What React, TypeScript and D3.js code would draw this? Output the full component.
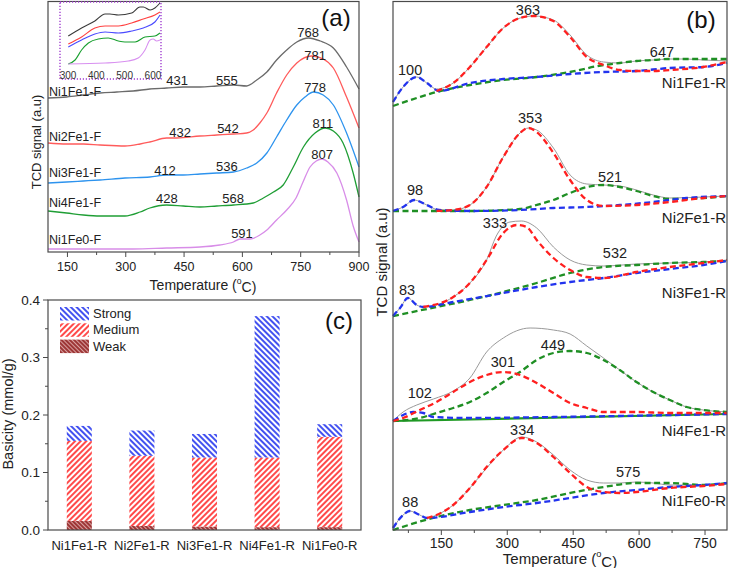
import React from 'react';
import * as d3 from 'd3';

const FONT = '"Liberation Sans", Arial, Helvetica, sans-serif';

// ---- (a) TPR profiles of fresh catalysts: [temperature (°C), signal] ----
const samplesA = ['Ni1Fe1-F', 'Ni2Fe1-F', 'Ni3Fe1-F', 'Ni4Fe1-F', 'Ni1Fe0-F'];
const ni1fe1F = [[100,154],[148,155],[191,157],[234,159],[277,160],[319,161],[362,163],[405,164],[448,165],[491,165],[534,166],[577,167],[611,166],[637,172],[663,180],[688,192],[714,202],[740,210],[770,214],[800,211],[834,204],[868,185],[900,163]];
const ni2fe1F = [[100,109],[148,108],[191,108],[234,107],[298,106],[337,108],[362,110],[405,114],[431,114],[491,116],[534,117],[577,118],[611,119],[628,122],[645,129],[663,139],[688,159],[714,177],[740,189],[778,196],[808,193],[834,184],[868,155],[900,124]];
const ni3fe1F = [[100,69],[148,70],[191,71],[234,72],[298,74],[362,75],[405,77],[448,77],[491,78],[534,79],[577,80],[611,84],[637,89],[663,99],[688,115],[714,132],[740,147],[761,155],[783,160],[808,157],[834,147],[868,119],[900,85]];
const ni4fe1F = [[100,41],[148,39],[191,37],[234,36],[298,36],[337,40],[362,44],[405,47],[448,46],[491,45],[534,46],[577,47],[628,49],[654,54],[680,60],[705,67],[731,85],[757,105],[787,119],[813,124],[834,121],[859,109],[885,79],[900,55]];
const ni1fe0F = [[100,3],[234,3],[319,3],[405,4],[491,5],[542,7],[577,10],[594,13],[620,13],[645,17],[663,22],[688,32],[714,42],[738,54],[756,70],[774,85],[790,91],[805,93],[820,90],[843,79],[868,52],[885,26],[900,10]];
// label text with [temperature, signal] anchor
const peaksA = [
  [['431', 432, 172], ['555', 560, 172], ['768', 769, 220]],
  [['432', 440, 120], ['542', 563, 124], ['781', 787, 197]],
  [['412', 401, 82], ['536', 560, 86], ['778', 787, 165]],
  [['428', 406, 54], ['568', 576, 54], ['811', 807, 129]],
  [['591', 599, 19], ['807', 805, 98]],
];
const nameLevelA = [160, 115, 79, 49, 12];
const ticksA = [150, 300, 450, 600, 750, 900];
const minorA = [225, 375, 525, 675, 825];

// inset (300-625 °C zoom)
const insNi1Fe1 = [[301,44],[348,52],[395,59],[431,66],[448,66],[478,65],[525,67],[554,73],[566,73],[590,70],[607,72],[625,77]];
const insNi2Fe1 = [[301,36],[348,43],[395,52],[431,54],[478,54],[525,57],[566,61],[607,65],[625,68]];
const insNi3Fe1 = [[301,33],[348,40],[395,46],[431,48],[478,47],[525,49],[566,52],[607,58],[625,65]];
const insNi4Fe1 = [[301,16],[325,20],[348,30],[372,37],[407,41],[442,42],[478,39],[501,38],[537,38],[572,43],[607,44],[625,47]];
const insNi1Fe0 = [[301,16],[431,17],[513,19],[548,22],[572,30],[590,40],[601,41],[613,39],[625,40]];
const insetTicks = [300, 400, 500, 600];

// ---- (b) deconvoluted TPR of reduced catalysts: [temperature (°C), signal] ----
const samplesB = ['Ni1Fe1-R', 'Ni2Fe1-R', 'Ni3Fe1-R', 'Ni4Fe1-R', 'Ni1Fe0-R'];
const r1Sum = [[40,428],[63,443],[94,453],[117,447],[139,441],[177,447],[215,463],[253,483],[291,502],[329,512],[360,514],[405,510],[443,495],[481,475],[519,468],[556,467],[594,469],[632,470],[670,471],[708,471],[746,470],[800,469]];
const r1Blue = [[40,428],[63,443],[94,453],[117,447],[145,439],[215,447],[291,451],[367,453],[443,456],[519,458],[594,459],[670,462],[746,463],[800,467]];
const r1Red = [[139,439],[177,447],[215,463],[253,483],[291,502],[329,512],[360,514],[405,509],[443,493],[481,473],[519,465],[556,460],[594,459],[632,459],[670,460],[746,463],[800,468]];
const r1Green = [[40,424],[101,433],[139,438],[215,445],[291,450],[367,453],[443,458],[519,465],[556,467],[594,469],[632,470],[670,471],[746,471],[800,471]];

const r2Sum = [[40,319],[63,323],[88,330],[117,325],[145,320],[177,320],[215,325],[253,343],[291,373],[329,397],[348,402],[367,400],[405,382],[443,355],[481,346],[519,345],[556,344],[594,340],[632,335],[670,332],[746,333],[800,334]];
const r2Blue = [[40,319],[63,323],[88,330],[117,325],[145,320],[215,319],[329,320],[405,322],[481,323],[556,325],[632,328],[708,332],[800,334]];
const r2Red = [[139,319],[177,320],[215,325],[253,343],[291,373],[329,397],[348,402],[367,398],[405,377],[443,350],[481,330],[519,324],[594,325],[670,328],[746,332],[800,334]];
const r2Green = [[40,319],[215,319],[329,321],[367,325],[405,330],[443,337],[481,343],[519,345],[556,343],[594,339],[632,334],[670,331],[746,332],[800,334]];

const r3Sum = [[40,214],[56,222],[74,232],[94,225],[109,223],[177,233],[215,247],[253,270],[275,294],[306,308],[332,309],[367,302],[405,283],[443,270],[481,265],[519,264],[594,266],[670,267],[746,268],[800,270]];
const r3Blue = [[40,214],[56,222],[74,232],[94,225],[109,223],[177,228],[291,237],[367,243],[443,248],[519,252],[594,257],[670,261],[746,265],[800,269]];
const r3Red = [[109,223],[177,233],[215,247],[253,270],[291,297],[321,305],[344,303],[367,290],[405,272],[443,260],[481,253],[519,252],[594,258],[670,263],[746,267],[800,270]];
const r3Green = [[40,214],[139,223],[215,230],[291,238],[367,247],[443,257],[519,263],[594,265],[670,267],[746,268],[800,269]];

const r4Sum = [[40,109],[63,118],[94,125],[132,131],[177,139],[215,152],[253,178],[291,192],[352,202],[405,200],[443,196],[481,184],[519,172],[556,160],[594,148],[632,138],[670,130],[708,123],[746,120],[800,118]];
const r4Blue = [[40,109],[63,115],[86,118],[109,117],[132,113],[215,112],[405,113],[800,116]];
const r4Red = [[40,109],[63,112],[101,120],[139,128],[177,138],[215,148],[253,155],[291,158],[329,155],[367,147],[405,137],[443,127],[481,122],[519,118],[594,118],[670,117],[800,117]];
const r4Green = [[40,109],[101,112],[139,117],[177,122],[215,128],[253,137],[291,148],[329,158],[367,170],[405,177],[443,179],[481,177],[519,170],[556,160],[594,148],[632,138],[670,130],[708,123],[746,120],[800,118]];
const r4Base = [[40,109],[800,116]];

const r5Sum = [[40,2],[63,15],[78,19],[101,15],[117,12],[139,15],[177,25],[215,42],[253,62],[291,80],[333,93],[367,88],[405,75],[443,60],[481,50],[519,47],[556,47],[594,48],[632,47],[670,45],[746,45],[800,46]];
const r5Blue = [[40,2],[63,15],[78,19],[101,15],[117,12],[215,18],[291,23],[367,27],[443,32],[519,37],[594,40],[670,43],[746,45],[800,47]];
const r5Red = [[117,12],[139,15],[177,25],[215,42],[253,63],[291,80],[333,92],[367,87],[405,73],[443,57],[481,43],[519,38],[556,37],[594,38],[670,42],[746,44],[800,46]];
const r5Green = [[40,0],[139,13],[215,20],[291,25],[367,30],[443,37],[519,43],[594,47],[670,47],[746,45],[800,47]];

const curvesB = [
  [r1Sum, r1Green, r1Blue, r1Red],
  [r2Sum, r2Green, r2Blue, r2Red],
  [r3Sum, r3Green, r3Blue, r3Red],
  [r4Sum, r4Green, r4Blue, r4Red],
  [r5Sum, r5Green, r5Blue, r5Red],
];
const peaksB = [
  [['100', 79, 460], ['363', 347, 520], ['647', 652, 478]],
  [['98', 90, 340], ['353', 352, 412], ['521', 534, 353]],
  [['83', 72, 240], ['333', 272, 307], ['532', 545, 277]],
  [['102', 101, 137], ['301', 290, 168], ['449', 404, 185]],
  [['88', 79, 28], ['334', 334, 100], ['575', 575, 58]],
];
const nameLevelB = [448, 313, 238, 100, 30];
const ticksB = [150, 300, 450, 600, 750];
const minorB = [75, 225, 375, 525, 675];

// ---- (c) basicity (mmol/g) ----
const catalysts = ['Ni1Fe1-R', 'Ni2Fe1-R', 'Ni3Fe1-R', 'Ni4Fe1-R', 'Ni1Fe0-R'];
const weakSites = [0.016, 0.007, 0.006, 0.005, 0.005];
const mediumSites = [0.139, 0.122, 0.120, 0.121, 0.157];
const strongSites = [0.026, 0.044, 0.041, 0.246, 0.022];
const ticksC = [0, 0.1, 0.2, 0.3, 0.4];
const minorC = [0.05, 0.15, 0.25, 0.35];

const colA = ['#6b6b6b', '#ff5b5b', '#2d93ee', '#1f9e35', '#d88de8'];
const colIns = ['#3a3a3a', '#ff4040', '#4a4aff', '#19a030', '#d890f0'];
const colB = ['#9a9a9a', '#1f8f24', '#2233ee', '#ff1f1f'];
const AX = '#4a4a4a';

function Degree({ pre }: { pre: string }) {
  return (
    <>
      {pre}(<tspan fontSize="0.62em" dy="-0.45em">o</tspan><tspan dy="0.45em">C)</tspan>
    </>
  );
}

export default function App() {
  // panel (a)
  const xA = d3.scaleLinear().domain([100, 900]).range([48, 359]);
  const yA = d3.scaleLinear().domain([0, 250]).range([252, 2]);
  const lineA = d3.line<number[]>().x(d => xA(d[0])).y(d => yA(d[1])).curve(d3.curveMonotoneX);
  const seriesA = [ni1fe1F, ni2fe1F, ni3fe1F, ni4fe1F, ni1fe0F];

  const xI = d3.scaleLinear().domain([300, 625]).range([68, 160]);
  const yI = d3.scaleLinear().domain([0, 78]).range([80, 2]);
  const lineI = d3.line<number[]>().x(d => xI(d[0])).y(d => yI(d[1])).curve(d3.curveMonotoneX);
  const seriesI = [insNi1Fe1, insNi2Fe1, insNi3Fe1, insNi4Fe1, insNi1Fe0];

  // panel (b)
  const xB = d3.scaleLinear().domain([40, 800]).range([393, 727]);
  const yB = d3.scaleLinear().domain([0, 529]).range([530, 1]);
  const lineB = d3.line<number[]>().x(d => xB(d[0])).y(d => yB(d[1])).curve(d3.curveMonotoneX);

  // panel (c)
  const xC = d3.scaleBand<string>().domain(catalysts).range([48, 361]).paddingInner(0.6).paddingOuter(0.3);
  const yC = d3.scaleLinear().domain([0, 0.4]).range([530, 300]);
  const table = catalysts.map((c, i) => ({ c, weak: weakSites[i], medium: mediumSites[i], strong: strongSites[i] }));
  const stacked = d3.stack<any>().keys(['weak', 'medium', 'strong'])(table);
  const fills: Record<string, string> = { weak: 'url(#hWeak)', medium: 'url(#hMed)', strong: 'url(#hStrong)' };
  const legend = [['strong', 'Strong'], ['medium', 'Medium'], ['weak', 'Weak']];

  return (
    <svg width={729} height={568} style={{ position: 'absolute', left: 0, top: 0, background: '#fff' }} fontFamily={FONT}>
      <defs>
        <pattern id="hStrong" patternUnits="userSpaceOnUse" width={4} height={4} patternTransform="rotate(-45)">
          <rect width={4} height={4} fill="#fff" />
          <line x1={1} y1={0} x2={1} y2={4} stroke="#2233ee" strokeWidth={1.7} />
        </pattern>
        <pattern id="hMed" patternUnits="userSpaceOnUse" width={4} height={4} patternTransform="rotate(45)">
          <rect width={4} height={4} fill="#fff" />
          <line x1={1} y1={0} x2={1} y2={4} stroke="#ff2a2a" strokeWidth={1.7} />
        </pattern>
        <pattern id="hWeak" patternUnits="userSpaceOnUse" width={3} height={3} patternTransform="rotate(-45)">
          <rect width={3} height={3} fill="#d9a0a0" />
          <line x1={1} y1={0} x2={1} y2={3} stroke="#8e1b1b" strokeWidth={1.6} />
        </pattern>
      </defs>

      {/* ---------- (a) ---------- */}
      <g>
        {seriesA.map((s, i) => (
          <path key={i} d={lineA(s) || ''} fill="none" stroke={colA[i]} strokeWidth={1.3} />
        ))}
        {samplesA.map((n, i) => (
          <text key={n} x={xA(100) + 1} y={yA(nameLevelA[i])} fontSize={12.5} dominantBaseline="central" fill="#222">{n}</text>
        ))}
        {peaksA.flat().map((p, i) => (
          <text key={i} x={xA(p[1] as number)} y={yA(p[2] as number)} fontSize={13} textAnchor="middle" dominantBaseline="central" fill="#222">{p[0]}</text>
        ))}
        <rect x={48} y={1.5} width={311} height={250.5} fill="none" stroke={AX} strokeWidth={1.2} />
        {ticksA.map(t => (
          <g key={t}>
            <line x1={xA(t)} x2={xA(t)} y1={252} y2={257} stroke={AX} />
            <text x={xA(t)} y={267} fontSize={12.5} textAnchor="middle" dominantBaseline="central" fill="#222">{t}</text>
          </g>
        ))}
        {minorA.map(t => <line key={t} x1={xA(t)} x2={xA(t)} y1={252} y2={255} stroke={AX} />)}
        <text x={203} y={285} fontSize={14} textAnchor="middle" dominantBaseline="central" fill="#222"><Degree pre="Temperature " /></text>
        <text transform="translate(36,142) rotate(-90)" fontSize={13} textAnchor="middle" dominantBaseline="central" fill="#222">TCD signal (a.u)</text>
        <text x={336} y={17} fontSize={24} textAnchor="middle" dominantBaseline="central" fill="#111">(a)</text>

        {/* inset */}
        <rect x={60} y={2} width={101} height={77} fill="#fff" stroke="#a13fd0" strokeWidth={1.4} strokeDasharray="1.2 1.8" />
        {seriesI.map((s, i) => (
          <path key={i} d={lineI(s) || ''} fill="none" stroke={colIns[i]} strokeWidth={1.1} />
        ))}
        {insetTicks.map(t => (
          <text key={t} x={xI(t)} y={75} fontSize={10} textAnchor="middle" dominantBaseline="central" fill="#333">{t}</text>
        ))}
      </g>

      {/* ---------- (b) ---------- */}
      <g>
        {curvesB.map((set, k) => (
          <g key={k}>
            {k === 3 && <path d={lineB(r4Base) || ''} fill="none" stroke="#1f9a24" strokeWidth={2.2} />}
            {set.map((s, j) => (
              <path key={j} d={lineB(s) || ''} fill="none" stroke={colB[j]}
                strokeWidth={j === 0 ? 1 : 2.3} strokeDasharray={j === 0 ? undefined : '6 3.5'} />
            ))}
          </g>
        ))}
        {samplesB.map((n, i) => (
          <text key={n} x={xB(800) - 1} y={yB(nameLevelB[i])} fontSize={15} textAnchor="end" dominantBaseline="central" fill="#222">{n}</text>
        ))}
        {peaksB.flat().map((p, i) => (
          <text key={i} x={xB(p[1] as number)} y={yB(p[2] as number)} fontSize={14.5} textAnchor="middle" dominantBaseline="central" fill="#222">{p[0]}</text>
        ))}
        <rect x={393} y={1.5} width={334} height={528.5} fill="none" stroke={AX} strokeWidth={1.2} />
        {ticksB.map(t => (
          <g key={t}>
            <line x1={xB(t)} x2={xB(t)} y1={530} y2={535} stroke={AX} />
            <text x={xB(t)} y={543} fontSize={14} textAnchor="middle" dominantBaseline="central" fill="#222">{t}</text>
          </g>
        ))}
        {minorB.map(t => <line key={t} x1={xB(t)} x2={xB(t)} y1={530} y2={533} stroke={AX} />)}
        <text x={560} y={558} fontSize={15} textAnchor="middle" dominantBaseline="central" fill="#222"><Degree pre="Temperature " /></text>
        <text transform="translate(381,262) rotate(-90)" fontSize={15} textAnchor="middle" dominantBaseline="central" fill="#222">TCD signal (a.u)</text>
        <text x={701} y={19} fontSize={24} textAnchor="middle" dominantBaseline="central" fill="#111">(b)</text>
      </g>

      {/* ---------- (c) ---------- */}
      <g>
        {stacked.map(layer => (
          <g key={layer.key} fill={fills[layer.key]}>
            {layer.map((d, i) => (
              <rect key={i} x={xC(catalysts[i])} y={yC(d[1])} width={xC.bandwidth()} height={yC(d[0]) - yC(d[1])} />
            ))}
          </g>
        ))}
        <rect x={48} y={300} width={313} height={230} fill="none" stroke={AX} strokeWidth={1.2} />
        {ticksC.map(t => (
          <g key={t}>
            <line x1={43} x2={48} y1={yC(t)} y2={yC(t)} stroke={AX} />
            <text x={40} y={yC(t)} fontSize={13.5} textAnchor="end" dominantBaseline="central" fill="#222">{d3.format('.1f')(t)}</text>
          </g>
        ))}
        {minorC.map(t => <line key={t} x1={45} x2={48} y1={yC(t)} y2={yC(t)} stroke={AX} />)}
        {catalysts.map(c => (
          <text key={c} x={(xC(c) || 0) + xC.bandwidth() / 2} y={545} fontSize={13} textAnchor="middle" dominantBaseline="central" fill="#222">{c}</text>
        ))}
        <text transform="translate(8,414) rotate(-90)" fontSize={14.5} textAnchor="middle" dominantBaseline="central" fill="#222">Basicity (mmol/g)</text>
        {legend.map(([k, label], i) => (
          <g key={k}>
            <rect x={60} y={307 + i * 16.3} width={29} height={13.5} fill={fills[k]} />
            <text x={93} y={313.5 + i * 16.3} fontSize={13} dominantBaseline="central" fill="#222">{label}</text>
          </g>
        ))}
        <text x={339} y={320} fontSize={24} textAnchor="middle" dominantBaseline="central" fill="#111">(c)</text>
      </g>
    </svg>
  );
}
